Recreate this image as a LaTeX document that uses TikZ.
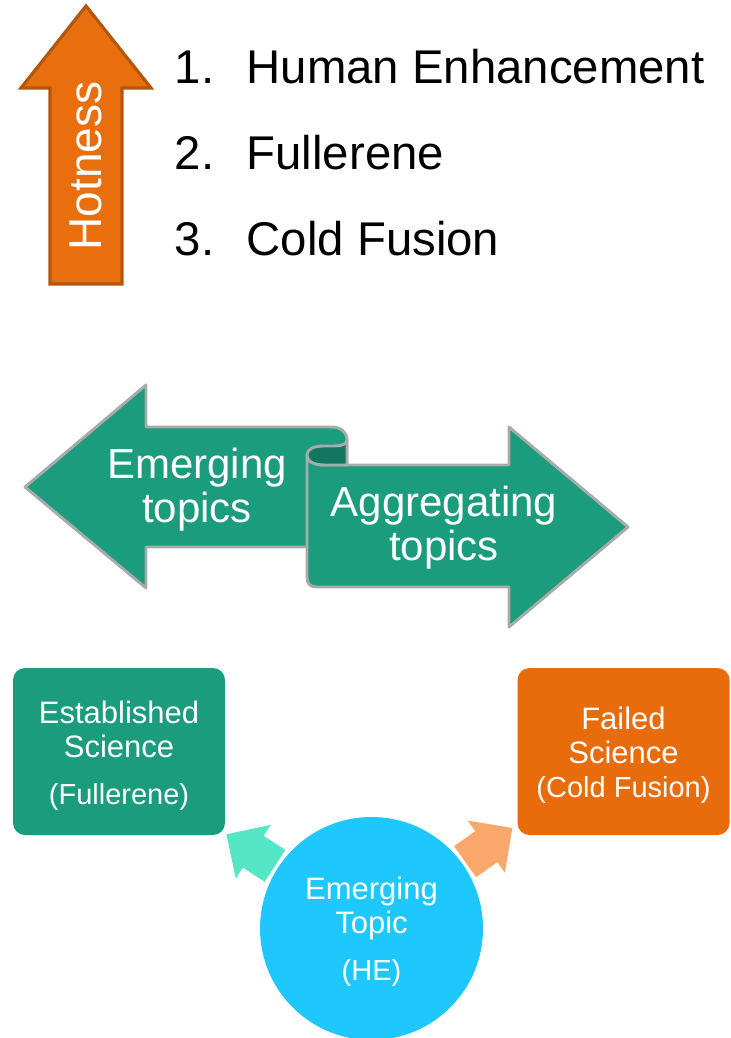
\documentclass[tikz,border=0pt]{standalone}
\usepackage{fontspec}
\setmainfont{Liberation Sans}
\definecolor{topicgreen}{RGB}{26,156,125}
\definecolor{rolldark}{RGB}{19,118,96}
\definecolor{bannergray}{RGB}{166,172,170}
\definecolor{hotorange}{RGB}{233,110,14}
\definecolor{hotborder}{RGB}{180,86,12}
\definecolor{failorange}{RGB}{233,108,12}
\definecolor{hecyan}{RGB}{30,200,254}
\definecolor{estlight}{RGB}{85,230,197}
\definecolor{faillight}{RGB}{249,167,106}
\begin{document}
\begin{tikzpicture}[x=0.75pt,y=-0.75pt,
    banner/.style={fill=topicgreen,draw=bannergray,line width=2.2pt,line join=round},
    bannertext/.style={anchor=base,align=center,text=white,font=\fontsize{31.5}{33}\selectfont},
    listitem/.style={anchor=base west,font=\fontsize{35.5}{40}\selectfont},
    box/.style={rounded corners=9pt,minimum width=159pt,minimum height=125.25pt,inner sep=0pt,
        align=center,text=white,font=\fontsize{23.25}{25.5}\selectfont},
    paren/.style={font=\fontsize{21.75}{25.5}\selectfont}]
    \useasboundingbox (0,0) rectangle (731,1038);

    \draw[fill=hotorange,draw=hotborder,line width=2.4pt] (86,6) -- (151,88) -- (122,88) -- (122,284)
        -- (50,284) -- (50,88) -- (21,88) -- cycle;
    \node[rotate=90,text=white,font=\fontsize{34.5}{40}\selectfont] (hot) at (86,166) {Hotness};

    \node[listitem] (n1) at (170,84) {1.};
    \node[listitem] (t1) at (242,84) {Human Enhancement};
    \node[listitem] (n2) at (170,170) {2.};
    \node[listitem] (t2) at (242,170) {Fullerene};
    \node[listitem] (n3) at (170,255) {3.};
    \node[listitem] (t3) at (242,255) {Cold Fusion};

    \draw[banner] (25,487) -- (146,385) -- (146,427) -- (331,427) .. controls (341,427) and (347,432) .. (347,440)
        -- (347,547) -- (146,547) -- (146,588) -- cycle;
    \draw[banner] (307,455) -- (307,577) .. controls (307,584) and (310,587) .. (317,587) -- (509,587)
        -- (509,627) -- (628,527) -- (509,427) -- (509,465) -- (325,465) .. controls (313,465) and (307,461) .. (307,455) -- cycle;
    \filldraw[banner,fill=rolldark] (307,455) .. controls (307,449) and (314,446) .. (324,446) -- (334,446)
        .. controls (342,446) and (347,444) .. (347,440) -- (347,465) -- (325,465) .. controls (313,465) and (307,461) .. (307,455) -- cycle;
    \node[bannertext] (emerging) at (197,522) {Emerging\\topics};
    \node[bannertext] (aggregating) at (444,560) {Aggregating\\topics};

    \node[box,fill=topicgreen] (est) at (119,751.5) {\rule{0pt}{23pt}Established\\Science\\[9.75pt]{\fontsize{21.75}{25.5}\selectfont(Fullerene)}};
    \node[box,fill=failorange] (fail) at (623.5,751.5) {\rule{0pt}{23pt}Failed\\Science\\{\fontsize{21.75}{25.5}\selectfont(Cold Fusion)}};
    \node[circle,fill=hecyan,minimum size=167.25pt,inner sep=0pt,align=center,text=white,
        font=\fontsize{23.25}{25.5}\selectfont] (he) at (371.5,928.5) {\rule{0pt}{21pt}Emerging\\Topic\\[9.75pt]{\fontsize{21.75}{25.5}\selectfont(HE)}};

    \begin{scope}[shift={(he.center)},rotate=147]
        \fill[estlight] (115,-19) -- (141,-19) -- (141,-32) -- (173,0) -- (141,32) -- (141,19) -- (115,19) -- cycle;
    \end{scope}
    \begin{scope}[shift={(he.center)},rotate=35.5]
        \fill[faillight] (115,-19) -- (141,-19) -- (141,-32) -- (173,0) -- (141,32) -- (141,19) -- (115,19) -- cycle;
    \end{scope}
\end{tikzpicture}
\end{document}
